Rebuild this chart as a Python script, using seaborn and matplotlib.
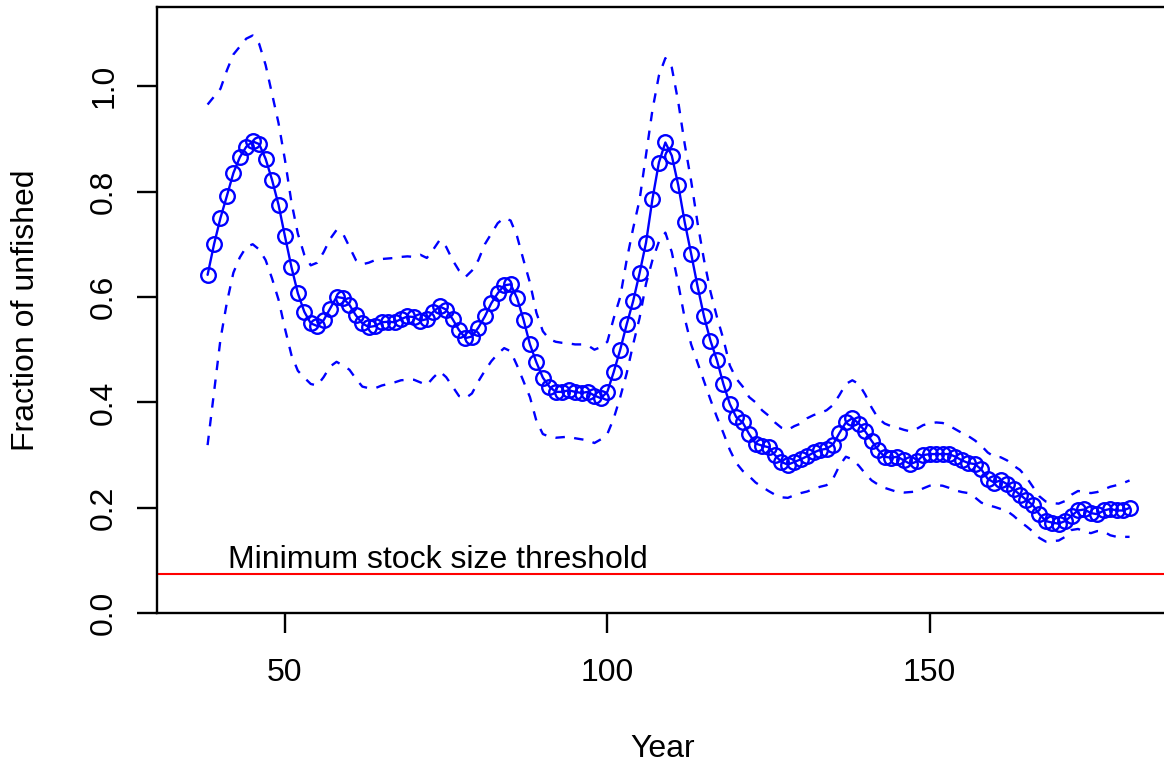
import numpy as np
import pandas as pd
import seaborn as sns
import matplotlib
matplotlib.use('Agg')
import matplotlib.pyplot as plt

# Fraction of unfished stock by year, with upper/lower bounds
years = list(range(38, 182))

fraction = [
    0.642, 0.700, 0.750, 0.792, 0.835, 0.865, 0.885, 0.895, 0.890, 0.862,
    0.822, 0.775, 0.715, 0.657, 0.607, 0.572, 0.550, 0.545, 0.556, 0.578,
    0.600, 0.598, 0.585, 0.565, 0.550, 0.543, 0.545, 0.552, 0.553, 0.552,
    0.558, 0.563, 0.562, 0.555, 0.558, 0.572, 0.582, 0.576, 0.558, 0.537,
    0.522, 0.525, 0.542, 0.563, 0.588, 0.607, 0.622, 0.624, 0.598, 0.557,
    0.510, 0.476, 0.447, 0.430, 0.420, 0.420, 0.423, 0.420, 0.418, 0.420,
    0.413, 0.408, 0.420, 0.458, 0.500, 0.548, 0.592, 0.645, 0.703, 0.786,
    0.855, 0.893, 0.868, 0.812, 0.742, 0.682, 0.620, 0.563, 0.517, 0.480,
    0.435, 0.397, 0.372, 0.362, 0.340, 0.322, 0.318, 0.315, 0.300, 0.287,
    0.282, 0.287, 0.292, 0.298, 0.305, 0.310, 0.312, 0.320, 0.342, 0.362,
    0.370, 0.360, 0.345, 0.327, 0.310, 0.297, 0.295, 0.297, 0.290, 0.283,
    0.288, 0.300, 0.302, 0.302, 0.302, 0.302, 0.297, 0.290, 0.285, 0.283,
    0.273, 0.255, 0.248, 0.252, 0.245, 0.235, 0.225, 0.215, 0.205, 0.188,
    0.175, 0.172, 0.170, 0.175, 0.185, 0.195, 0.197, 0.190, 0.188, 0.195,
    0.198, 0.195, 0.195, 0.200,
]

upper = [
    0.965, 0.980, 0.995, 1.030, 1.060, 1.075, 1.090, 1.096, 1.080, 1.040,
    0.985, 0.930, 0.860, 0.780, 0.720, 0.680, 0.660, 0.665, 0.685, 0.710,
    0.727, 0.720, 0.695, 0.670, 0.662, 0.665, 0.670, 0.672, 0.673, 0.674,
    0.676, 0.677, 0.676, 0.680, 0.674, 0.690, 0.708, 0.695, 0.670, 0.650,
    0.638, 0.650, 0.670, 0.700, 0.720, 0.740, 0.750, 0.745, 0.715, 0.670,
    0.627, 0.570, 0.535, 0.520, 0.515, 0.513, 0.512, 0.510, 0.510, 0.508,
    0.500, 0.505, 0.515, 0.560, 0.600, 0.670, 0.730, 0.784, 0.870, 0.955,
    1.020, 1.053, 1.035, 0.970, 0.890, 0.820, 0.740, 0.670, 0.610, 0.562,
    0.520, 0.470, 0.445, 0.430, 0.410, 0.400, 0.385, 0.375, 0.362, 0.352,
    0.348, 0.355, 0.360, 0.370, 0.376, 0.380, 0.385, 0.395, 0.414, 0.435,
    0.442, 0.435, 0.415, 0.390, 0.370, 0.360, 0.355, 0.352, 0.348, 0.345,
    0.350, 0.357, 0.360, 0.362, 0.361, 0.356, 0.349, 0.342, 0.336, 0.328,
    0.318, 0.305, 0.297, 0.296, 0.290, 0.280, 0.272, 0.258, 0.240, 0.222,
    0.212, 0.209, 0.208, 0.213, 0.225, 0.232, 0.230, 0.228, 0.230, 0.235,
    0.240, 0.243, 0.247, 0.252,
]

lower = [
    0.319, 0.420, 0.520, 0.590, 0.646, 0.675, 0.695, 0.700, 0.690, 0.670,
    0.635, 0.595, 0.540, 0.490, 0.460, 0.447, 0.435, 0.432, 0.448, 0.468,
    0.477, 0.470, 0.462, 0.445, 0.430, 0.427, 0.427, 0.432, 0.435, 0.438,
    0.442, 0.443, 0.443, 0.438, 0.433, 0.447, 0.459, 0.448, 0.430, 0.412,
    0.408, 0.417, 0.440, 0.460, 0.478, 0.492, 0.503, 0.497, 0.470, 0.440,
    0.410, 0.365, 0.340, 0.335, 0.333, 0.334, 0.335, 0.332, 0.330, 0.328,
    0.323, 0.330, 0.340, 0.370, 0.410, 0.455, 0.510, 0.560, 0.625, 0.670,
    0.705, 0.722, 0.685, 0.625, 0.560, 0.510, 0.475, 0.440, 0.405, 0.372,
    0.342, 0.310, 0.285, 0.270, 0.260, 0.248, 0.240, 0.232, 0.225, 0.220,
    0.219, 0.224, 0.228, 0.231, 0.236, 0.240, 0.243, 0.255, 0.280, 0.297,
    0.292, 0.280, 0.265, 0.252, 0.244, 0.238, 0.234, 0.230, 0.229, 0.230,
    0.231, 0.237, 0.242, 0.243, 0.242, 0.238, 0.233, 0.230, 0.228, 0.220,
    0.210, 0.205, 0.202, 0.198, 0.194, 0.185, 0.174, 0.165, 0.155, 0.143,
    0.136, 0.137, 0.138, 0.145, 0.158, 0.160, 0.155, 0.152, 0.156, 0.155,
    0.148, 0.145, 0.145, 0.145,
]

threshold = 0.075
x_ticks = [50, 100, 150]
y_ticks = [0.0, 0.2, 0.4, 0.6, 0.8, 1.0]

df = pd.DataFrame({'year': years, 'fraction': fraction,
                   'upper': upper, 'lower': lower})

sns.set_style('ticks')
plt.rcParams['font.family'] = ['Liberation Sans', 'DejaVu Sans']
plt.rcParams['axes.linewidth'] = 1.7
for key in ['text.color', 'axes.labelcolor', 'xtick.color', 'ytick.color',
            'axes.edgecolor']:
    plt.rcParams[key] = 'black'

W, H = 1164, 764
fig = plt.figure(figsize=(W / 100, H / 100), dpi=100)
ax = fig.add_axes([157.3 / W, 1 - 613.3 / H, (W - 157.3) / W, (613.3 - 7) / H])

sns.lineplot(data=df, x='year', y='fraction', ax=ax, color='blue',
             errorbar=None, linewidth=1.7, marker='o', markersize=10.5,
             markerfacecolor='none', markeredgecolor='blue',
             markeredgewidth=1.7)
for col in ['upper', 'lower']:
    sns.lineplot(data=df, x='year', y=col, ax=ax, color='blue',
                 errorbar=None, linewidth=1.7, linestyle=(0, (4, 4)))

ax.axhline(threshold, color='red', linewidth=1.5)
ax.text(41.2, 0.086, 'Minimum stock size threshold', fontsize=23,
        ha='left', va='baseline')

ax.set_xlim(30.2, 186.34)
ax.set_ylim(0, 1.15)
ax.set_xticks(x_ticks)
ax.set_yticks(y_ticks)
ax.set_yticklabels([f'{v:.1f}' for v in y_ticks])
ax.tick_params(axis='both', direction='out', length=14.4, width=1.7,
               labelsize=23, color='black', labelcolor='black')
ax.tick_params(axis='x', pad=18)
ax.tick_params(axis='y', pad=13)
plt.setp(ax.get_yticklabels(), rotation=90, va='center')
ax.spines['right'].set_visible(False)

ax.set_xlabel('')
ax.set_ylabel('')
fig.text(663 / W, 1 - 757 / H, 'Year', fontsize=23, ha='center',
         va='baseline')
fig.text(26 / W, 1 - 310 / H, 'Fraction of unfished', fontsize=23,
         rotation=90, ha='center', va='center')

fig.savefig('out.png', dpi=100)
